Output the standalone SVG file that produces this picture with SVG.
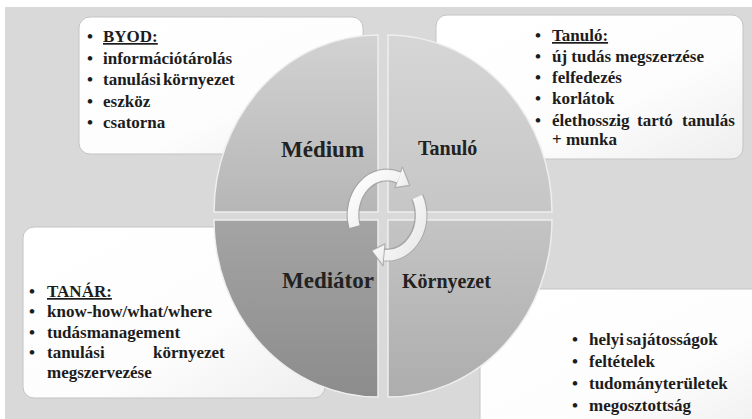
<svg xmlns="http://www.w3.org/2000/svg" width="752" height="419" viewBox="0 0 752 419">
<defs>
<linearGradient id="gBox" x1="0" y1="0" x2="1" y2="1">
<stop offset="0" stop-color="#ffffff"/><stop offset="0.6" stop-color="#fdfdfd"/><stop offset="1" stop-color="#eeeeee"/>
</linearGradient>
<linearGradient id="gMed" x1="0" y1="0" x2="0" y2="1">
<stop offset="0" stop-color="#d2d2d2"/><stop offset="1" stop-color="#b6b6b6"/>
</linearGradient>
<linearGradient id="gTan" x1="0" y1="0" x2="0" y2="1">
<stop offset="0" stop-color="#d6d6d6"/><stop offset="1" stop-color="#c6c6c6"/>
</linearGradient>
<linearGradient id="gMdt" x1="0" y1="0" x2="0" y2="1">
<stop offset="0" stop-color="#a4a4a4"/><stop offset="1" stop-color="#8c8c8c"/>
</linearGradient>
<linearGradient id="gKor" x1="0" y1="0" x2="0" y2="1">
<stop offset="0" stop-color="#c4c4c4"/><stop offset="1" stop-color="#adadad"/>
</linearGradient>
<linearGradient id="gArrow" x1="0" y1="0" x2="1" y2="1">
<stop offset="0" stop-color="#ffffff"/><stop offset="1" stop-color="#e8e8e8"/>
</linearGradient>
</defs>
<style>
.box{fill:url(#gBox);stroke:#c4c4c4;stroke-width:1}
.t{font-family:"Liberation Serif","Times New Roman",serif;font-weight:bold;font-size:17px;fill:#1c1c1c}
.u{text-decoration:underline}
.lbl{font-family:"Liberation Serif","Times New Roman",serif;font-weight:bold;fill:#222222}
.q{stroke:#eeeeee;stroke-width:1.5}
.ash{fill:none;stroke:#9a9a9a;stroke-width:13;stroke-opacity:0.7}
.aw{fill:none;stroke:url(#gArrow);stroke-width:10.5}
.ah{fill:url(#gArrow);stroke:#9a9a9a;stroke-opacity:0.7;stroke-width:1.2;stroke-linejoin:round}
</style>
<rect x="5" y="7" width="747" height="412" fill="#d9d9d9"/>

<g id="box-byod">
<rect class="box" x="79" y="17" width="284" height="137" rx="11"/>
<text class="t" x="87" y="42">•</text><text class="t u" x="103" y="42">BYOD:</text>
<text class="t" x="87" y="63.5">•</text><text class="t" x="103" y="63.5">információtárolás</text>
<text class="t" x="87" y="85">•</text><text class="t" x="103" y="85" word-spacing="-2">tanulási környezet</text>
<text class="t" x="87" y="106.5">•</text><text class="t" x="103" y="106.5">eszköz</text>
<text class="t" x="87" y="128">•</text><text class="t" x="103" y="128">csatorna</text>
</g>

<g id="box-tanulo">
<rect class="box" x="436" y="15" width="307" height="144" rx="11"/>
<text class="t" x="535" y="41">•</text><text class="t u" x="552" y="41">Tanuló:</text>
<text class="t" x="535" y="62">•</text><text class="t" x="552" y="62">új tudás megszerzése</text>
<text class="t" x="535" y="83">•</text><text class="t" x="552" y="83">felfedezés</text>
<text class="t" x="535" y="104">•</text><text class="t" x="552" y="104">korlátok</text>
<text class="t" x="535" y="125.5">•</text><text class="t" y="125.5"><tspan x="552">élethosszig</tspan><tspan x="637">tartó</tspan><tspan x="682">tanulás</tspan></text>
<text class="t" x="552" y="145">+ munka</text>
</g>

<g id="box-tanar">
<rect class="box" x="23" y="227" width="302" height="171" rx="11"/>
<text class="t" x="29" y="297">•</text><text class="t u" x="47" y="297">TANÁR:</text>
<text class="t" x="29" y="317">•</text><text class="t" x="47" y="317">know-how/what/where</text>
<text class="t" x="29" y="337.5">•</text><text class="t" x="47" y="337.5">tudásmanagement</text>
<text class="t" x="29" y="358">•</text><text class="t" y="358"><tspan x="47">tanulási</tspan><tspan x="153">környezet</tspan></text>
<text class="t" x="47" y="378">megszervezése</text>
</g>

<g id="box-kornyezet">
<rect class="box" x="480" y="289" width="290" height="150" rx="11"/>
<text class="t" x="572" y="345">•</text><text class="t" x="589" y="345" word-spacing="-2">helyi sajátosságok</text>
<text class="t" x="572" y="367">•</text><text class="t" x="589" y="367">feltételek</text>
<text class="t" x="572" y="389">•</text><text class="t" x="589" y="389">tudományterületek</text>
<text class="t" x="572" y="411">•</text><text class="t" x="589" y="411">megosztottság</text>
</g>

<g id="q-medium">
<path class="q" d="M378 212 L378 35 A164 177 0 0 0 214 212 Z" fill="url(#gMed)"/>
<text class="lbl" x="281" y="157" font-size="23">Médium</text>
</g>
<g id="q-tanulo">
<path class="q" d="M388 212 L388 35 A164 177 0 0 1 552 212 Z" fill="url(#gTan)"/>
<text class="lbl" x="418" y="155" font-size="20">Tanuló</text>
</g>
<g id="q-mediator">
<path class="q" d="M378 220 L214 220 A164 177 0 0 0 378 397 Z" fill="url(#gMdt)"/>
<text class="lbl" x="282" y="288" font-size="23">Mediátor</text>
</g>
<g id="q-kornyezet">
<path class="q" d="M388 220 L552 220 A164 177 0 0 1 388 397 Z" fill="url(#gKor)"/>
<text class="lbl" x="402" y="288" font-size="20">Környezet</text>
</g>

<g id="connectors">
<path class="ash" d="M354.5 226.7 A34 40 0 0 1 398.6 177.4"/>
<path class="ash" d="M417.3 196.8 A34 40 0 0 1 384.0 254.8"/>
<polygon class="ah" points="402.4,167.1 409.7,185.3 394.9,187.7"/>
<polygon class="ah" points="383.1,265.8 371.6,250.6 385.0,243.9"/>
<path class="aw" d="M354.5 226.7 A34 40 0 0 1 399.2 177.6"/>
<path class="aw" d="M417.3 196.8 A34 40 0 0 1 384.4 255.2"/>
</g>
</svg>
